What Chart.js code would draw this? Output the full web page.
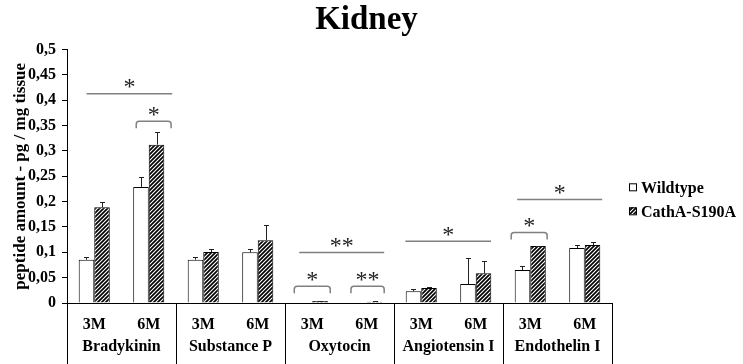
<!DOCTYPE html>
<html>
<head>
<meta charset="utf-8">
<script src="https://cdn.jsdelivr.net/npm/chart.js@4.4.1/dist/chart.umd.min.js"></script>
<style>
  html, body { margin: 0; padding: 0; background: #fff; }
  #wrap { width: 743px; height: 364px; }
</style>
</head>
<body>
<div id="wrap"><canvas id="chart" width="743" height="364"></canvas></div>
<script>
// Sub-categories (age) and peptide groups
const categories = ['3M', '6M', '3M', '6M', '3M', '6M', '3M', '6M', '3M', '6M'];
const groups = ['Bradykinin', 'Substance P', 'Oxytocin', 'Angiotensin I', 'Endothelin I'];

// Series values (pg / mg tissue) and upper error
const wildtype    = [0.0855, 0.229, 0.0855, 0.100, 0.001, 0.001, 0.023, 0.0375, 0.065, 0.1085];
const wildtypeErr = [0.0045, 0.020, 0.0045, 0.0066, 0, 0, 0.0046, 0.051, 0.0086, 0.0066];
const cathA       = [0.1888, 0.3125, 0.1007, 0.1237, 0.004, 0.0025, 0.0296, 0.0586, 0.1125, 0.1145];
const cathAErr    = [0.010, 0.024, 0.006, 0.030, 0.0005, 0.0005, 0.001, 0.025, 0.0008, 0.006];

// Y tick labels (comma decimals)
const yTickLabels = ['0', '0,05', '0,1', '0,15', '0,2', '0,25', '0,3', '0,35', '0,4', '0,45', '0,5'];

// Significance marks: span in category units, level in data units
const sigFrom    = [-0.14, 0.77, 3.76, 3.67, 4.71, 5.71, 7.65, 7.76];
const sigTo      = [1.43, 1.41, 5.32, 4.33, 5.32, 7.28, 8.31, 9.32];
const sigLevel   = [0.413, 0.3585, 0.0996, 0.033, 0.033, 0.1219, 0.139, 0.204];
const sigMark    = ['*', '*', '**', '*', '**', '*', '*', '*'];
const sigBracket = [false, true, false, true, true, false, true, false];

const serif = "'Liberation Serif', 'Times New Roman', serif";

// Diagonal hatch pattern
function makeHatch() {
    const c = document.createElement('canvas');
    c.width = 4; c.height = 4;
    const g = c.getContext('2d');
    g.fillStyle = '#fff';
    g.fillRect(0, 0, 4, 4);
    g.strokeStyle = '#000';
    g.lineWidth = 1.7;
    g.beginPath();
    g.moveTo(0, 4); g.lineTo(4, 0);
    g.moveTo(-1, 1); g.lineTo(1, -1);
    g.moveTo(3, 5); g.lineTo(5, 3);
    g.stroke();
    return g.createPattern(c, 'repeat');
}
const hatch = makeHatch();

// Error bars (upward only)
const errorBars = {
    id: 'errorBars',
    afterDatasetsDraw(chart) {
        const ctx = chart.ctx;
        const y = chart.scales.y;
        const errs = [wildtypeErr, cathAErr];
        ctx.save();
        ctx.strokeStyle = '#222';
        ctx.lineWidth = 1;
        chart.data.datasets.forEach((ds, di) => {
            chart.getDatasetMeta(di).data.forEach((bar, i) => {
                const e = errs[di][i];
                if (!e) return;
                const x = Math.round(bar.x) + 0.5;
                const top = Math.round(y.getPixelForValue(ds.data[i] + e)) + 0.5;
                ctx.beginPath();
                ctx.moveTo(x, bar.y);
                ctx.lineTo(x, top);
                ctx.moveTo(x - 2.5, top);
                ctx.lineTo(x + 2.5, top);
                ctx.stroke();
            });
        });
        ctx.restore();
    }
};

// Significance lines / brackets with stars
const sigMarks = {
    id: 'sigMarks',
    afterDatasetsDraw(chart) {
        const ctx = chart.ctx;
        const xs = chart.scales.x, ys = chart.scales.y;
        ctx.save();
        ctx.strokeStyle = '#808080';
        ctx.lineWidth = 1.5;
        ctx.font = '24px ' + serif;
        ctx.fillStyle = '#222';
        ctx.textAlign = 'center';
        ctx.textBaseline = 'alphabetic';
        for (let k = 0; k < sigFrom.length; k++) {
            const x1 = xs.getPixelForValue(sigFrom[k]);
            const x2 = xs.getPixelForValue(sigTo[k]);
            const yy = ys.getPixelForValue(sigLevel[k]);
            ctx.beginPath();
            if (sigBracket[k]) {
                const leg = 7, r = 3;
                ctx.moveTo(x1, yy + leg);
                ctx.arcTo(x1, yy, x1 + r, yy, r);
                ctx.arcTo(x2, yy, x2, yy + r, r);
                ctx.lineTo(x2, yy + leg);
            } else {
                ctx.moveTo(x1, yy);
                ctx.lineTo(x2, yy);
            }
            ctx.stroke();
            ctx.fillText(sigMark[k], (x1 + x2) / 2, yy + 0.5);
        }
        ctx.restore();
    }
};

// Group separators and peptide names under the axis
const groupAxis = {
    id: 'groupAxis',
    afterDraw(chart) {
        const ctx = chart.ctx;
        const xs = chart.scales.x;
        const top = xs.top;
        ctx.save();
        ctx.strokeStyle = '#000';
        ctx.lineWidth = 1;
        for (let g = 0; g <= groups.length; g++) {
            const x = Math.round(xs.getPixelForValue(g * 2 - 0.5)) + 0.5;
            ctx.beginPath();
            ctx.moveTo(x, top);
            ctx.lineTo(x, chart.height);
            ctx.stroke();
        }
        ctx.fillStyle = '#000';
        ctx.font = 'bold 16px ' + serif;
        ctx.textAlign = 'center';
        ctx.textBaseline = 'alphabetic';
        groups.forEach((name, g) => {
            const cx = xs.getPixelForValue(g * 2 + 0.5);
            ctx.fillText(name, cx, top + 48);
        });
        ctx.restore();
    }
};

// Legend at the right
const sideLegend = {
    id: 'sideLegend',
    afterDraw(chart) {
        const ctx = chart.ctx;
        const area = chart.chartArea;
        const mid = (area.top + area.bottom) / 2;
        ctx.save();
        ctx.font = 'bold 16px ' + serif;
        ctx.textBaseline = 'alphabetic';
        ctx.textAlign = 'left';
        chart.data.datasets.forEach((ds, i) => {
            const bx = area.right + 17;
            const by = mid + 7 + i * 24;
            ctx.fillStyle = ds.backgroundColor;
            ctx.fillRect(bx, by, 7, 7);
            ctx.strokeStyle = '#000';
            ctx.lineWidth = 1;
            ctx.strokeRect(bx + 0.5, by + 0.5, 7, 7);
            ctx.fillStyle = '#000';
            ctx.fillText(ds.label, bx + 12, by + 10);
        });
        ctx.restore();
    }
};

Chart.defaults.color = '#000';

new Chart(document.getElementById('chart'), {
    type: 'bar',
    data: {
        labels: categories,
        datasets: [
            {
                label: 'Wildtype',
                data: wildtype,
                backgroundColor: '#fff',
                borderColor: '#000',
                borderWidth: 1
            },
            {
                label: 'CathA-S190A',
                data: cathA,
                backgroundColor: hatch,
                borderColor: '#000',
                borderWidth: 1
            }
        ]
    },
    options: {
        responsive: false,
        animation: false,
        layout: { padding: { left: 0, right: 10, top: 0, bottom: 0 } },
        categoryPercentage: 0.57,
        barPercentage: 1.0,
        plugins: {
            legend: { display: false },
            tooltip: { enabled: false },
            title: {
                display: true,
                text: 'Kidney',
                font: { family: serif, size: 33, weight: 'bold' },
                padding: { top: 1, bottom: 9 }
            }
        },
        scales: {
            x: {
                grid: { display: false, drawTicks: false },
                border: { display: true, color: '#000', width: 1 },
                ticks: {
                    font: { family: serif, size: 16, weight: 'bold' },
                    padding: 12,
                    maxRotation: 0,
                    autoSkip: false
                },
                afterFit(scale) { scale.height = 61; }
            },
            y: {
                min: 0,
                max: 0.5,
                grid: { display: true, drawOnChartArea: false, drawTicks: true, tickLength: 5, color: '#000' },
                border: { display: true, color: '#000', width: 1 },
                ticks: {
                    stepSize: 0.05,
                    padding: 6,
                    font: { family: serif, size: 16, weight: 'bold' },
                    callback: (v, i) => yTickLabels[i]
                },
                title: {
                    display: true,
                    text: 'peptide amount - pg / mg tissue',
                    font: { family: serif, size: 17, weight: 'bold' },
                    padding: { top: 10, bottom: 0 }
                },
                afterFit(scale) { scale.width = 67; }
            },
            // empty right-hand strip that holds the legend
            legendSpace: {
                axis: 'y',
                position: 'right',
                display: true,
                grid: { display: false, drawTicks: false },
                border: { display: false },
                ticks: { display: false },
                afterFit(scale) { scale.width = 121; }
            }
        }
    },
    plugins: [errorBars, sigMarks, groupAxis, sideLegend]
});
</script>
</body>
</html>
